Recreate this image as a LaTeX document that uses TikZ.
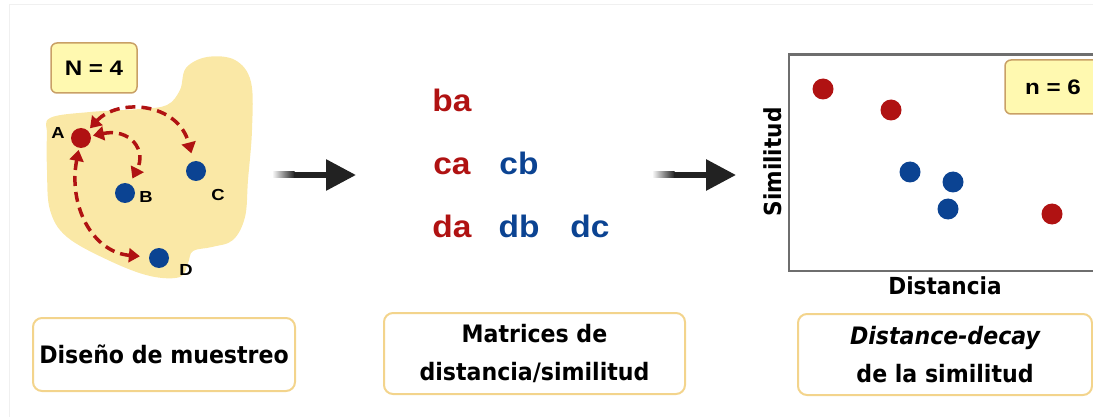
\documentclass[tikz,border=0pt]{standalone}
\usepackage{fontspec}
\setmainfont{DejaVu Sans}
\newfontfamily\labfont{DejaVu Sans}[FakeStretch=0.92]
\newfontfamily\keyfont{Liberation Sans}[FakeStretch=1.15]
\newfontfamily\pairfont{Liberation Sans}[FakeStretch=1.08]
\usetikzlibrary{arrows.meta,calc}

\definecolor{dotred}{HTML}{B01212}
\definecolor{dotblue}{HTML}{0B4392}
\definecolor{blobfill}{HTML}{FAE8A6}
\definecolor{tagfill}{HTML}{FFF9B0}
\definecolor{tagedge}{HTML}{C9A066}
\definecolor{boxedge}{HTML}{F3D48C}
\definecolor{framegray}{HTML}{6E6E6E}
\definecolor{arrowdark}{HTML}{222222}

\tikzset{
  dot/.style={circle, minimum size=20pt, inner sep=0pt},
  reddot/.style={dot, fill=dotred},
  bluedot/.style={dot, fill=dotblue},
  plotred/.style={reddot, minimum size=21pt},
  plotblue/.style={bluedot, minimum size=21pt},
  ptlabel/.style={font=\keyfont\bfseries\fontsize{16}{16}\selectfont, inner sep=0pt},
  pairtext/.style={font=\pairfont\bfseries\fontsize{31}{31}\selectfont, inner sep=0pt, anchor=base},
  darr/.style={draw=dotred, line width=3.5pt, dash pattern=on 10pt off 6pt,
    {Triangle[length=11pt,width=14pt]}-{Triangle[length=11pt,width=14pt]}},
  tag/.style={draw=tagedge, fill=tagfill, line width=1.5pt, rounded corners=6pt,
    font=\keyfont\bfseries\fontsize{21}{21}\selectfont, inner sep=0pt},
  caption/.style={draw=boxedge, fill=white, line width=2pt, rounded corners=9pt,
    align=center, inner sep=0pt,
    font=\labfont\bfseries\fontsize{24}{38.5}\selectfont},
  axislabel/.style={font=\labfont\bfseries\fontsize{23.5}{23.5}\selectfont, inner sep=0pt},
  bigarrow/.style={draw=arrowdark, line width=6pt, -{Triangle[length=30pt,width=30pt]}},
}

\begin{document}
\begin{tikzpicture}[x=1pt, y=-1pt]
\useasboundingbox (0,0) rectangle (1093,417);
\clip (0,0) rectangle (1093,417);

% faint outer frame
\draw[black!6, line width=1pt] (9,417) -- (9,5) -- (1093,5);

% ---------- sampling design ----------
\fill[blobfill] plot[smooth cycle, tension=0.6] coordinates {
  (50,118) (90,112) (140,109) (167,105) (180,90) (186,68) (207,57) (235,60)
  (251,82) (252,130) (248,180) (245,217) (233,240) (212,247) (193,251)
  (188,263) (180,277) (150,276) (110,261) (67,237) (50,210) (47,170) (47,135)};

\node[tag, minimum width=86pt, minimum height=50pt] (Ntag) at (94,68) {N = 4};

\node[reddot]  (A) at (81,138) {};
\node[bluedot] (B) at (125,193) {};
\node[bluedot] (C) at (196,171) {};
\node[bluedot] (D) at (159,258) {};

\node[ptlabel] (lA) at (58,133) {A};
\node[ptlabel] (lB) at (146,197) {B};
\node[ptlabel] (lC) at (218,195) {C};
\node[ptlabel] (lD) at (186,270) {D};

\draw[darr, shorten <=3pt, shorten >=8pt] (A) .. controls (118,98) and (178,102) .. (C);
\draw[darr, shorten <=2pt, shorten >=6pt] (A) .. controls (130,128) and (147,150) .. (B);
\draw[darr, shorten <=2pt, shorten >=9pt] (A) .. controls (68,205) and (92,252) .. (D);

% ---------- arrow 1 ----------
\coordinate (g1a) at (272,175);
\coordinate (g1b) at (294,175);
\coordinate (g1c) at (356,175);
\shade[left color=white, right color=arrowdark] ($(g1a)+(0,-3)$) rectangle ($(g1b)+(0.5,3)$);
\draw[bigarrow] (g1b) -- (g1c);

% ---------- pairwise matrix ----------
\node[pairtext, text=dotred]  (ba) at (452,112) {ba};
\node[pairtext, text=dotred]  (ca) at (452,175) {ca};
\node[pairtext, text=dotblue] (cb) at (519,175) {cb};
\node[pairtext, text=dotred]  (da) at (452,237) {da};
\node[pairtext, text=dotblue] (db) at (519,237) {db};
\node[pairtext, text=dotblue] (dc) at (590,237) {dc};

% ---------- arrow 2 ----------
\coordinate (g2a) at (652,175);
\coordinate (g2b) at (674,175);
\coordinate (g2c) at (736,175);
\shade[left color=white, right color=arrowdark] ($(g2a)+(0,-3)$) rectangle ($(g2b)+(0.5,3)$);
\draw[bigarrow] (g2b) -- (g2c);

% ---------- distance-decay plot ----------
\draw[framegray, line width=2.5pt] (1110,54.5) -- (789,54.5) -- (789,271) -- (1110,271);

\node[tag, minimum width=96pt, minimum height=54pt] (ntag) at (1053,87) {n = 6};

\node[plotred]  (p1) at (823,89) {};
\node[plotred]  (p2) at (891,110) {};
\node[plotblue] (p3) at (910,172) {};
\node[plotblue] (p4) at (953,182) {};
\node[plotblue] (p5) at (948,209) {};
\node[plotred]  (p6) at (1052,214) {};

\node[axislabel, rotate=90] (ylab) at (773,162) {Similitud};
\node[axislabel] (xlab) at (945,286) {Distancia};

% ---------- captions ----------
\node[caption, minimum width=262pt, minimum height=73pt] (cap1) at (164,354.5)
  {Diseño de muestreo};
\node[caption, minimum width=301pt, minimum height=81pt] (cap2) at (534.5,353.5)
  {Matrices de\\distancia/similitud};
\node[caption, minimum width=294pt, minimum height=81pt] (cap3) at (945,354.5)
  {\itshape Distance-decay\\de la similitud};
\end{tikzpicture}
\end{document}
